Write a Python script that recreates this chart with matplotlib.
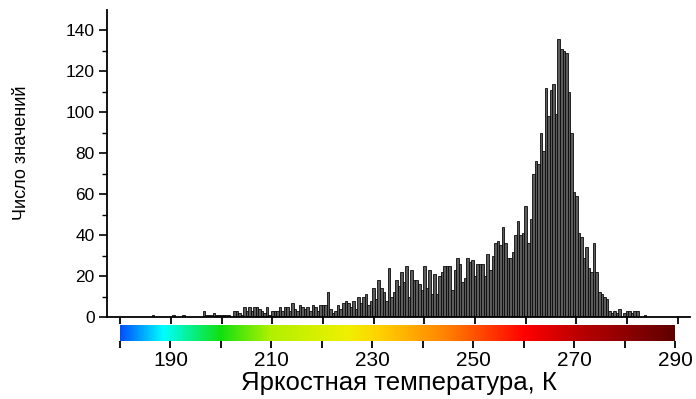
import numpy as np
import matplotlib
matplotlib.use("Agg")
import matplotlib.pyplot as plt
from matplotlib.colors import LinearSegmentedColormap

# histogram counts, 0.5 K bins, one list per 10 K
bin_start = 180.0
bin_width = 0.5
counts_180 = [0, 0, 0, 0, 0, 0, 0, 0, 0, 0, 0, 0, 0, 1, 0, 0, 0, 0, 0, 0]
counts_190 = [0, 1, 0, 0, 0, 1, 0, 0, 0, 0, 0, 0, 0, 3, 1, 1, 1, 2, 1, 1]
counts_200 = [1, 1, 1, 1, 0, 3, 3, 2, 1, 5, 3, 5, 3, 5, 5, 4, 3, 2, 5, 1]
counts_210 = [3, 3, 3, 5, 3, 5, 5, 3, 7, 4, 3, 6, 5, 4, 5, 3, 6, 5, 3, 6]
counts_220 = [6, 6, 12, 4, 2, 3, 6, 4, 7, 8, 7, 5, 8, 4, 10, 7, 10, 11, 6, 8]
counts_230 = [14, 9, 18, 14, 12, 8, 24, 10, 12, 18, 15, 22, 17, 25, 10, 23, 18, 18, 16, 13]
counts_240 = [25, 14, 23, 11, 21, 11, 20, 22, 25, 25, 25, 13, 23, 29, 26, 17, 19, 29, 27, 28]
counts_250 = [20, 26, 26, 26, 20, 31, 23, 30, 36, 37, 35, 44, 36, 29, 29, 32, 40, 47, 40, 41]
counts_260 = [54, 36, 48, 70, 76, 75, 90, 81, 112, 98, 111, 114, 99, 136, 131, 130, 129, 110, 90, 61]
counts_270 = [59, 41, 39, 29, 34, 24, 22, 36, 22, 12, 11, 10, 9, 3, 2, 3, 2, 4, 0, 2]
counts_280 = [3, 3, 2, 3, 3, 0, 0, 1]

# colour scale under the axis
scale_ticks = [180, 190, 200, 210, 220, 230, 240, 250, 260, 270, 280, 290]
scale_labels = ["", "190", "", "210", "", "230", "", "250", "", "270", "", "290"]
scale_colors = [(0.0, "#0050ff"), (0.077, "#00ffff"), (0.18, "#10e010"),
                (0.27, "#b0f000"), (0.41, "#f0f000"), (0.47, "#ffd000"),
                (0.59, "#ff8000"), (0.73, "#ff0000"), (0.82, "#c00000"),
                (1.0, "#600000")]

counts = np.array(counts_180 + counts_190 + counts_200 + counts_210 + counts_220
                  + counts_230 + counts_240 + counts_250 + counts_260
                  + counts_270 + counts_280, dtype=float)
centers = bin_start + bin_width * np.arange(len(counts))

plt.rcParams['font.family'] = ['Liberation Sans', 'DejaVu Sans']

fig = plt.figure(figsize=(6.96, 3.99), dpi=100)
ax = fig.add_axes([107 / 696, 1 - 317 / 399, 583 / 696, 307 / 399])

ax.bar(centers, counts, width=bin_width, color="#5c5c5c", edgecolor="#0a0a0a",
       linewidth=0.6, align="center")

ax.set_xlim(177.4, 292.4)
ax.set_ylim(0, 150)
ax.spines["top"].set_visible(False)
ax.spines["right"].set_visible(False)
for s in ("left", "bottom"):
    ax.spines[s].set_linewidth(1.3)
ax.set_xticks(scale_ticks)
ax.set_xticklabels([])
ax.set_yticks(np.arange(0, 141, 20))
ax.set_yticks(np.arange(10, 150, 20), minor=True)
ax.tick_params(axis="x", direction="out", length=5, width=1.3)
ax.tick_params(axis="y", which="major", direction="out", length=6, width=1.2,
               labelsize=12.5, pad=3)
ax.tick_params(axis="y", which="minor", direction="out", length=3.5, width=1.0)

# colour bar
cmap = LinearSegmentedColormap.from_list("tb", scale_colors)
cax = fig.add_axes([120 / 696, 1 - 341 / 399, 555 / 696, 16 / 399])
grad = np.linspace(0, 1, 512).reshape(1, -1)
cax.imshow(grad, aspect="auto", cmap=cmap, extent=(180, 290, 0, 1))
cax.set_xlim(180, 290)
cax.set_yticks([])
for s in cax.spines.values():
    s.set_visible(False)
cax.set_xticks(scale_ticks)
cax.set_xticklabels(scale_labels)
cax.tick_params(axis="x", direction="out", length=5, width=1.3, labelsize=15, pad=2)

fig.text(399 / 696, 1 - 383 / 399, "Яркостная температура, К", ha="center",
         va="center", fontsize=18.5)
fig.text(22 / 696, 1 - 153 / 399, "Число значений", ha="center", va="center",
         rotation=90, fontsize=13)

fig.savefig("out.png", dpi=100)
